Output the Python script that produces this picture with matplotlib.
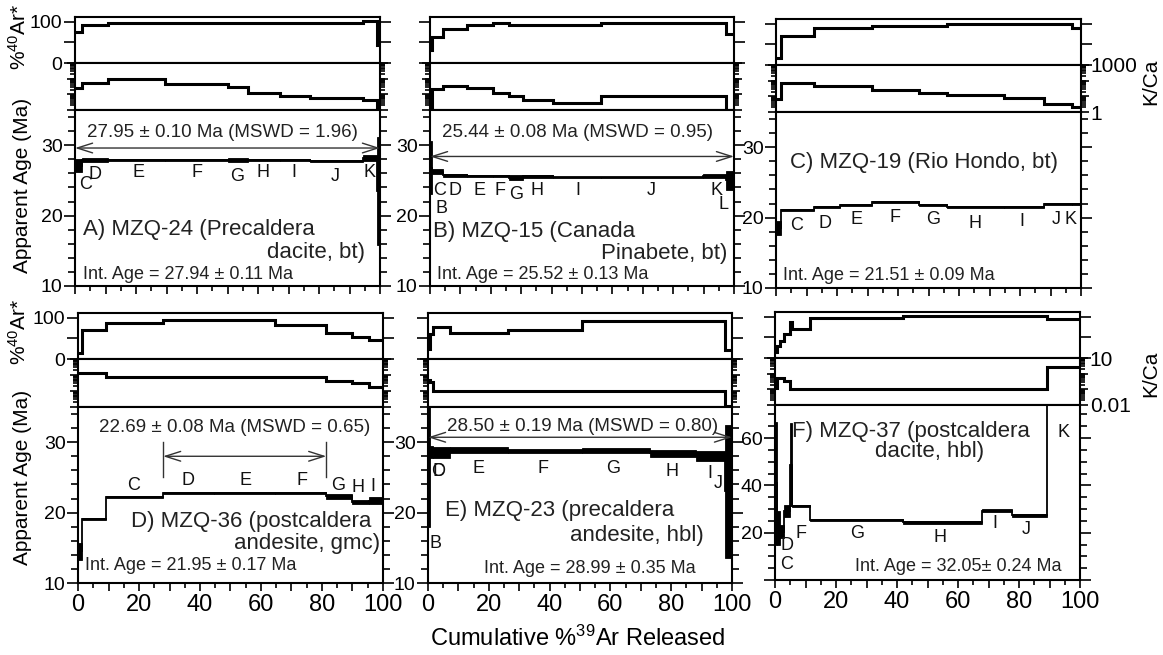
import matplotlib
matplotlib.use('Agg')
import matplotlib.pyplot as plt
from matplotlib.ticker import MultipleLocator, FuncFormatter, LogLocator, NullFormatter
import numpy as np

plt.rcParams['font.family'] = ['Liberation Sans', 'DejaVu Sans']
plt.rcParams['mathtext.fontset'] = 'custom'
plt.rcParams['mathtext.rm'] = 'Liberation Sans'
plt.rcParams['mathtext.it'] = 'Liberation Sans:italic'

W, H = 1163, 655

### step data
# edges = cumulative %39Ar, ar = %40Ar*, kca = K/Ca, age/err = apparent age (Ma) and 2 sigma
a_edges = [0, 2.2, 10.9, 29.5, 50.3, 56.8, 67.2, 77.0, 94.5, 98.9, 100]
a_ar = [75, 92, 98, 98, 98, 98, 98, 98, 103, 45]
a_kca = [27, 50, 95, 44, 31, 11.6, 7.8, 5.6, 4.4, 1.1]
a_age = [27.1, 27.9, 27.95, 27.95, 27.85, 27.95, 27.95, 27.75, 28.2, 23.5]
a_err = [0.9, 0.3, 0.15, 0.15, 0.3, 0.15, 0.15, 0.15, 0.45, 7.7]

b_edges = [0, 0.5, 4.4, 12.3, 20.8, 26.1, 30.7, 40.5, 56.4, 89.8, 97.5, 100]
b_ar = [32, 64, 82, 93, 98, 93, 93, 93, 98, 98, 71]
b_kca = [1.5, 21, 34, 24, 11.6, 7.8, 4.4, 2.9, 8.2, 8.2, 1.05]
b_age = [26.8, 26.2, 25.7, 25.6, 25.6, 25.35, 25.6, 25.45, 25.45, 25.6, 25.0]
b_err = [3.8, 0.35, 0.15, 0.15, 0.15, 0.35, 0.2, 0.1, 0.1, 0.25, 1.3]

c_edges = [0, 1.7, 12.3, 21.1, 31.5, 46.8, 56.0, 74.6, 87.8, 97.0, 100]
c_ar = [18, 71, 89, 89, 95, 95, 99, 99, 99, 91]
c_kca = [6.7, 76, 47, 47, 26, 16, 12, 8.1, 3.2, 2.2]
c_age = [18.5, 21.05, 21.45, 21.8, 22.2, 21.8, 21.45, 21.45, 21.9, 21.9]
c_err = [1.0, 0.15, 0.15, 0.15, 0.15, 0.15, 0.15, 0.15, 0.15, 0.15]

d_edges = [0, 1.3, 9.3, 27.9, 44.5, 64.7, 81.4, 89.8, 95.3, 100]
d_ar = [14, 71, 87, 95, 95, 83, 64, 54, 46]
d_kca = [1.26, 1.26, 0.72, 0.72, 0.72, 0.72, 0.45, 0.33, 0.19]
d_age = [14.5, 19.1, 22.2, 22.75, 22.75, 22.75, 22.3, 21.55, 21.7]
d_err = [1.2, 0.15, 0.15, 0.15, 0.15, 0.15, 0.35, 0.3, 0.45]

e_edges = [0, 0.8, 1.7, 7.3, 26.3, 50.8, 73.0, 88.3, 97.8, 100]
e_ar = [25, 60, 79, 64, 71, 93, 93, 93, 22]
e_kca = [0.52, 0.38, 0.1, 0.1, 0.1, 0.1, 0.1, 0.1, 0.012]
e_age = [28.0, 28.55, 28.5, 28.85, 28.8, 28.8, 28.4, 28.1, 23.0]
e_err = [10, 0.85, 0.8, 0.45, 0.3, 0.35, 0.45, 0.7, 9.5]

f_edges = [0, 0.8, 1.6, 3.0, 4.9, 5.5, 11.5, 42.1, 67.8, 77.6, 89.1, 100]
f_ar = [15, 30, 42, 58, 87, 71, 98, 103, 103, 103, 96]
f_kca = [0.12, 0.5, 0.51, 0.36, 0.106, 0.106, 0.106, 0.106, 0.106, 0.106, 2.8]
f_age = [41, 22, 20.5, 29.3, 48.8, 31.2, 25.3, 24.4, 29.3, 27.4, 90]
f_err = [26, 7, 2.8, 2.5, 17.7, 0.5, 0.5, 0.6, 0.6, 0.7, 3]

# step letters (label, cum %, age)
a_steps = [('C', 3.3, 24.4), ('D', 6.6, 25.9), ('E', 20.8, 26.1), ('F', 39.9, 26.1), ('G', 53, 25.6),
           ('H', 61.7, 26.1), ('I', 71.6, 26.1), ('J', 85.2, 25.6), ('K', 96.7, 26.1)]
b_steps = [('C', 3.3, 23.5), ('D', 8.2, 23.5), ('E', 16.4, 23.5), ('F', 23, 23.5), ('G', 28.3, 23.0),
           ('H', 35.1, 23.5), ('I', 48.8, 23.5), ('J', 72.9, 23.5), ('K', 94.3, 23.5), ('L', 96.5, 21.6),
           ('B', 3.8, 21.0)]
c_steps = [('C', 6.8, 18.9), ('D', 16.1, 19.2), ('E', 26.4, 19.7), ('F', 39, 20.0), ('G', 51.6, 19.7),
           ('H', 65.2, 19.2), ('I', 80.6, 19.4), ('J', 92, 19.7), ('K', 96.4, 19.7)]
d_steps = [('C', 18.1, 23.9), ('D', 36.2, 24.5), ('E', 54.8, 24.5), ('F', 73.3, 24.5), ('G', 85.4, 23.9),
           ('H', 91.9, 23.5), ('I', 96.8, 23.7)]
e_steps = [('C', 3.2, 25.8), ('D', 3.6, 25.8), ('E', 16.6, 26.2), ('F', 37.9, 26.2), ('G', 61, 26.2),
           ('H', 80.2, 25.9), ('I', 92.8, 25.5), ('J', 95.5, 24.1), ('B', 2.6, 15.6)]
f_steps = [('C', 3.8, 6.4), ('D', 3.8, 14.8), ('F', 8.4, 19.5), ('G', 26.8, 19.5), ('H', 54.1, 18.1),
           ('I', 72.1, 23.7), ('J', 82.5, 21.5), ('K', 94.5, 62.2)]

# panel texts (text, cum %, age, ha, size)
a_text = [('A) MZQ-24 (Precaldera', 2.5, 18.0, 'left', 16), ('dacite, bt)', 95.1, 14.7, 'right', 16),
          ('Int. Age = 27.94 ± 0.11 Ma', 2.5, 11.6, 'left', 13)]
b_text = [('B) MZQ-15 (Canada', 1.1, 17.7, 'left', 16), ('Pinabete, bt)', 97.9, 14.6, 'right', 16),
          ('Int. Age = 25.52 ± 0.13 Ma', 2.2, 11.6, 'left', 13)]
c_text = [('C) MZQ-19 (Rio Hondo, bt)', 4.6, 27.8, 'left', 16),
          ('Int. Age = 21.51 ± 0.09 Ma', 2.4, 11.8, 'left', 13)]
d_text = [('D) MZQ-36 (postcaldera', 96.3, 18.7, 'right', 16), ('andesite, gmc)', 99, 15.6, 'right', 16),
          ('Int. Age = 21.95 ± 0.17 Ma', 2.3, 12.5, 'left', 13)]
e_text = [('E) MZQ-23 (precaldera', 5.6, 20.3, 'left', 16), ('andesite, hbl)', 90.6, 16.8, 'right', 16),
          ('Int. Age = 28.99 ± 0.35 Ma', 53.3, 12.0, 'center', 13)]
f_text = [('F) MZQ-37 (postcaldera', 5.5, 62.8, 'left', 16), ('dacite, hbl)', 50.8, 54.4, 'center', 16),
          ('Int. Age = 32.05± 0.24 Ma', 26.2, 5.9, 'left', 13)]

# plateau (start, end, arrow age, label, label x, label age, end bars)
a_plat = (0, 100, 29.6, '27.95 ± 0.10 Ma (MSWD = 1.96)', 48.4, 31.8, False)
b_plat = (0, 100, 28.4, '25.44 ± 0.08 Ma (MSWD = 0.95)', 48.5, 31.8, False)
d_plat = (27.9, 81.4, 28.0, '22.69 ± 0.08 Ma (MSWD = 0.65)', 51.5, 32.1, True)
e_plat = (0, 100, 30.7, '28.50 ± 0.19 Ma (MSWD = 0.80)', 50.8, 32.2, False)


def rect(x0, x1, y0, y1):
    return [x0 / W, 1 - y1 / H, (x1 - x0) / W, (y1 - y0) / H]


def style(ax, xlen=6, ylen=8):
    for s in ax.spines.values():
        s.set_linewidth(1.5)
    ax.set_xlim(0, 100)
    ax.xaxis.set_major_locator(MultipleLocator(10))
    ax.xaxis.set_minor_locator(MultipleLocator(5))
    ax.tick_params(axis='both', which='both', direction='out', right=True, top=False,
                   width=1.2, colors='k', labelbottom=False, labelleft=False)
    ax.tick_params(axis='x', which='major', length=xlen)
    ax.tick_params(axis='x', which='minor', length=xlen * 0.6)
    ax.tick_params(axis='y', which='major', length=ylen)
    ax.tick_params(axis='y', which='minor', length=ylen * 0.6)


def draw_panel(box, edges, ar, kca, age, err, steps, texts, plat=None,
               age_lim=(10, 35), age_major=10, age_minor=2, kca_lim=(1, 1000),
               left=False, right=False, bottom=False):
    x0, x1, ya, yk, yg, yb = box
    edges = np.array(edges)
    age = np.array(age)
    err = np.array(err)

    ax_ar = fig.add_axes(rect(x0, x1, ya, yk))
    ax_k = fig.add_axes(rect(x0, x1, yk, yg))
    ax_g = fig.add_axes(rect(x0, x1, yg, yb))

    # %40Ar*
    style(ax_ar)
    ax_ar.stairs(ar, edges, baseline=None, color='k', lw=2.2)
    ax_ar.set_ylim(0, 112)
    ax_ar.set_yticks([0, 50, 100])
    if left:
        ax_ar.tick_params(labelleft=True, labelsize=14, pad=1)
        ax_ar.yaxis.set_major_formatter(FuncFormatter(lambda v, p: '%g' % v if v != 50 else ''))

    # K/Ca
    style(ax_k, ylen=6)
    ax_k.set_yscale('log')
    ax_k.stairs(kca, edges, baseline=None, color='k', lw=2.2)
    ax_k.set_ylim(*kca_lim)
    ax_k.yaxis.set_major_locator(LogLocator(base=10))
    ax_k.yaxis.set_minor_locator(LogLocator(base=10, subs=np.arange(2, 10)))
    ax_k.yaxis.set_minor_formatter(NullFormatter())
    if right:
        ends = kca_lim
        ax_k.yaxis.set_major_formatter(FuncFormatter(
            lambda v, p: '%g' % v if np.isclose(v, ends[0]) or np.isclose(v, ends[1]) else ''))
        ax_k.tick_params(labelright=True, labelsize=15, pad=1)

    # apparent age spectrum
    style(ax_g)
    ax_g.bar(edges[:-1], 2 * err, width=np.diff(edges), bottom=age - err, align='edge',
             color='k', edgecolor='k', lw=0.6)
    ax_g.stairs(age, edges, baseline=None, color='k', lw=1.3)
    ax_g.set_ylim(*age_lim)
    ax_g.yaxis.set_major_locator(MultipleLocator(age_major))
    ax_g.yaxis.set_minor_locator(MultipleLocator(age_minor))
    ax_g.yaxis.set_major_formatter(FuncFormatter(lambda v, p: '%g' % v if v > 0 else ''))
    ax_g.tick_params(labelleft=True, labelsize=14, pad=1)
    if bottom:
        ax_g.tick_params(axis='x', labelbottom=True, labelsize=17, pad=2)
        ax_g.xaxis.set_major_formatter(FuncFormatter(lambda v, p: '%d' % v if v % 20 == 0 else ''))

    for lab, x, y in steps:
        ax_g.text(x, y, lab, fontsize=13, ha='center', va='center', color='#111111')
    for t, x, y, ha, fs in texts:
        ax_g.text(x, y, t, fontsize=fs, ha=ha, va='center', color='#222222')

    if plat is not None:
        p0, p1, py, ptxt, tx, ty, bars = plat
        ax_g.annotate('', xy=(p1, py), xytext=(p0, py),
                      arrowprops=dict(arrowstyle='<->,head_length=1.1,head_width=0.35', lw=1.0,
                                      color='#333333', shrinkA=0, shrinkB=0, mutation_scale=10))
        if bars:
            ax_g.plot([p0, p0], [py - 2.9, py + 2.0], color='#333333', lw=1.0)
            ax_g.plot([p1, p1], [py - 2.9, py + 2.0], color='#333333', lw=1.0)
        ax_g.text(tx, ty, ptxt, fontsize=13.5, ha='center', va='center', color='#222222')
    return ax_ar, ax_k, ax_g


fig = plt.figure(figsize=(W / 100, H / 100), dpi=100)

draw_panel((75, 380, 17, 63, 110, 286), a_edges, a_ar, a_kca, a_age, a_err, a_steps, a_text,
           plat=a_plat, left=True)
draw_panel((430, 734, 17, 63, 110, 286), b_edges, b_ar, b_kca, b_age, b_err, b_steps, b_text,
           plat=b_plat)
draw_panel((776, 1081, 19, 65, 112, 288), c_edges, c_ar, c_kca, c_age, c_err, c_steps, c_text,
           right=True)
draw_panel((78, 383, 313, 359, 407, 583), d_edges, d_ar, d_kca, d_age, d_err, d_steps, d_text,
           plat=d_plat, kca_lim=(0.01, 10), left=True, bottom=True)
draw_panel((428, 732, 313, 359, 407, 583), e_edges, e_ar, e_kca, e_age, e_err, e_steps, e_text,
           plat=e_plat, kca_lim=(0.01, 10), bottom=True)
draw_panel((775, 1080, 312, 358, 405, 580), f_edges, f_ar, f_kca, f_age, f_err, f_steps, f_text,
           age_lim=(0, 74), age_major=20, age_minor=5, kca_lim=(0.01, 10), right=True, bottom=True)

# row labels
for yc in (37, 332):
    fig.text(19 / W, 1 - yc / H, '%$^{40}$Ar*', rotation=90, fontsize=15, ha='center', va='center')
for yc in (185, 477):
    fig.text(23 / W, 1 - yc / H, 'Apparent Age (Ma)', rotation=90, fontsize=15, ha='center', va='center')
for yc in (82, 374):
    fig.text(1151 / W, 1 - yc / H, 'K/Ca', rotation=90, fontsize=15, ha='center', va='center')
fig.text(578 / W, 1 - 638 / H, 'Cumulative %$^{39}$Ar Released', fontsize=17, ha='center', va='center')

fig.savefig('out.png', dpi=100)
